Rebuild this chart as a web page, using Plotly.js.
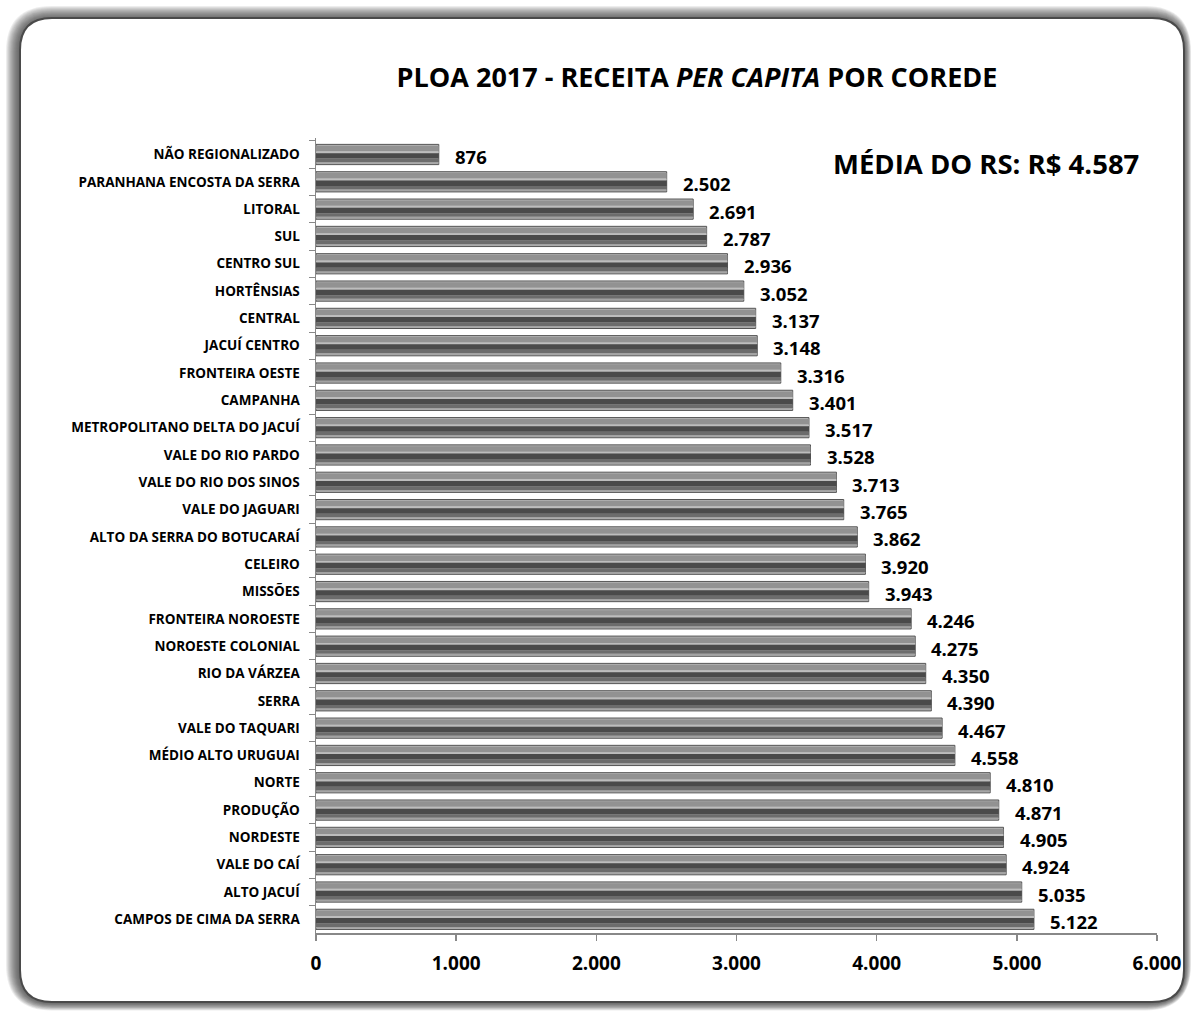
<!DOCTYPE html>
<html><head><meta charset="utf-8">
<script src="https://cdn.plot.ly/plotly-3.0.1.min.js"></script>
<style>html,body{margin:0;padding:0;background:#fff}#c{width:1191px;height:1011px}</style>
</head><body><div id="c"></div>
<script>
const categories = ["NÃO REGIONALIZADO","PARANHANA ENCOSTA DA SERRA","LITORAL","SUL","CENTRO SUL","HORTÊNSIAS","CENTRAL","JACUÍ CENTRO","FRONTEIRA OESTE","CAMPANHA","METROPOLITANO DELTA DO JACUÍ","VALE DO RIO PARDO","VALE DO RIO DOS SINOS","VALE DO JAGUARI","ALTO DA SERRA DO BOTUCARAÍ","CELEIRO","MISSÕES","FRONTEIRA NOROESTE","NOROESTE COLONIAL","RIO DA VÁRZEA","SERRA","VALE DO TAQUARI","MÉDIO ALTO URUGUAI","NORTE","PRODUÇÃO","NORDESTE","VALE DO CAÍ","ALTO JACUÍ","CAMPOS DE CIMA DA SERRA"];
const values = [876,2502,2691,2787,2936,3052,3137,3148,3316,3401,3517,3528,3713,3765,3862,3920,3943,4246,4275,4350,4390,4467,4558,4810,4871,4905,4924,5035,5122];
const xTicks = [0,1000,2000,3000,4000,5000,6000];
const chartTitle = "PLOA 2017 - RECEITA <i>PER CAPITA</i> POR COREDE";
const mediaLabel = "MÉDIA DO RS: R$ 4.587";

const FONT = "'Open Sans', sans-serif";
const W = 1191, H = 1011;
const M = {l:316, r:34, t:138, b:78};
const pw = W - M.l - M.r, ph = H - M.t - M.b;
const px = x => (x - M.l) / pw;
const py = y => (H - M.b - y) / ph;

// bevel stripes: [offset, width, color] in category units (y reversed => positive offset = lower)
const stripes = [
  [-0.37, 0.74, '#b4b4b4'],
  [-0.32, 0.20, '#929292'],
  [-0.12, 0.07, '#bdbdbd'],
  [-0.05, 0.20, '#4a4a4a'],
  [0.15, 0.13, '#6c6c6c'],
  [0.28, 0.05, '#a2a2a2']
];
const traces = stripes.map((s, i) => ({
  type: 'bar', orientation: 'h', y: categories, x: values,
  offset: s[0], width: s[1],
  marker: {color: s[2], line: {width: i === 0 ? 1 : 0, color: '#555555'}},
  hoverinfo: 'skip', showlegend: false
}));

function rr(x0, y0, x1, y1, r) {
  const X = v => px(v), Y = v => py(v);
  return `M ${X(x0+r)} ${Y(y0)} L ${X(x1-r)} ${Y(y0)} Q ${X(x1)} ${Y(y0)} ${X(x1)} ${Y(y0+r)} L ${X(x1)} ${Y(y1-r)} Q ${X(x1)} ${Y(y1)} ${X(x1-r)} ${Y(y1)} L ${X(x0+r)} ${Y(y1)} Q ${X(x0)} ${Y(y1)} ${X(x0)} ${Y(y1-r)} L ${X(x0)} ${Y(y0+r)} Q ${X(x0)} ${Y(y0)} ${X(x0+r)} ${Y(y0)} Z`;
}
const shapes = [];
for (let k = 14; k >= 1; k--) {
  shapes.push({type:'path', xref:'paper', yref:'paper', layer:'below',
    path: rr(20-k, 18-k+2, 1184+k*0.5, 1002+k*0.6, 32+k),
    fillcolor:'rgba(50,50,50,0.09)', line:{width:0}});
}
shapes.push({type:'path', xref:'paper', yref:'paper', layer:'below',
  path: rr(20, 18, 1184, 1002, 32), fillcolor:'#ffffff', line:{width:2, color:'#4a4a4a'}});

const annotations = categories.map((c, i) => ({
  x: values[i], y: c, xref:'x', yref:'y', text: values[i].toLocaleString('de-DE'),
  showarrow:false, xanchor:'left', xshift:14, yshift:-2,
  font:{family:FONT, size:18.5, color:'#000', weight:'bold'}
}));
annotations.push({xref:'paper', yref:'paper', x: px(831), y: py(163), xanchor:'left', yanchor:'middle',
  text: mediaLabel, showarrow:false, font:{family:FONT, size:27.5, color:'#000', weight:'bold'}});

const layout = {
  width: W, height: H, margin: M,
  paper_bgcolor:'#ffffff', plot_bgcolor:'rgba(0,0,0,0)',
  barmode:'overlay', separators:',.',
  title:{text: chartTitle, xref:'container', yref:'container', x: 697/W, y: 1-78/H, xanchor:'center', yanchor:'middle',
    font:{family:FONT, size:27, color:'#000', weight:'bold'}},
  xaxis:{range:[0,6000], tickvals: xTicks, tickformat:',d', showgrid:false, zeroline:false,
    showline:true, linecolor:'#888', linewidth:2, ticks:'outside', ticklen:6, tickcolor:'#888', tickwidth:1.5,
    ticklabelstandoff: 6,
    tickfont:{family:FONT, size:19, color:'#000', weight:'bold'}, fixedrange:true},
  yaxis:{autorange:'reversed', type:'category', showgrid:false, zeroline:false,
    showline:true, linecolor:'#888', linewidth:1.5, ticks:'outside', ticklen:6, tickcolor:'#888', tickson:'boundaries',
    ticklabelstandoff: 12,
    tickfont:{family:FONT, size:13.5, color:'#000', weight:'bold'}, fixedrange:true},
  shapes: shapes, annotations: annotations
};
Plotly.newPlot('c', traces, layout, {displayModeBar:false, staticPlot:true});
</script></body></html>
